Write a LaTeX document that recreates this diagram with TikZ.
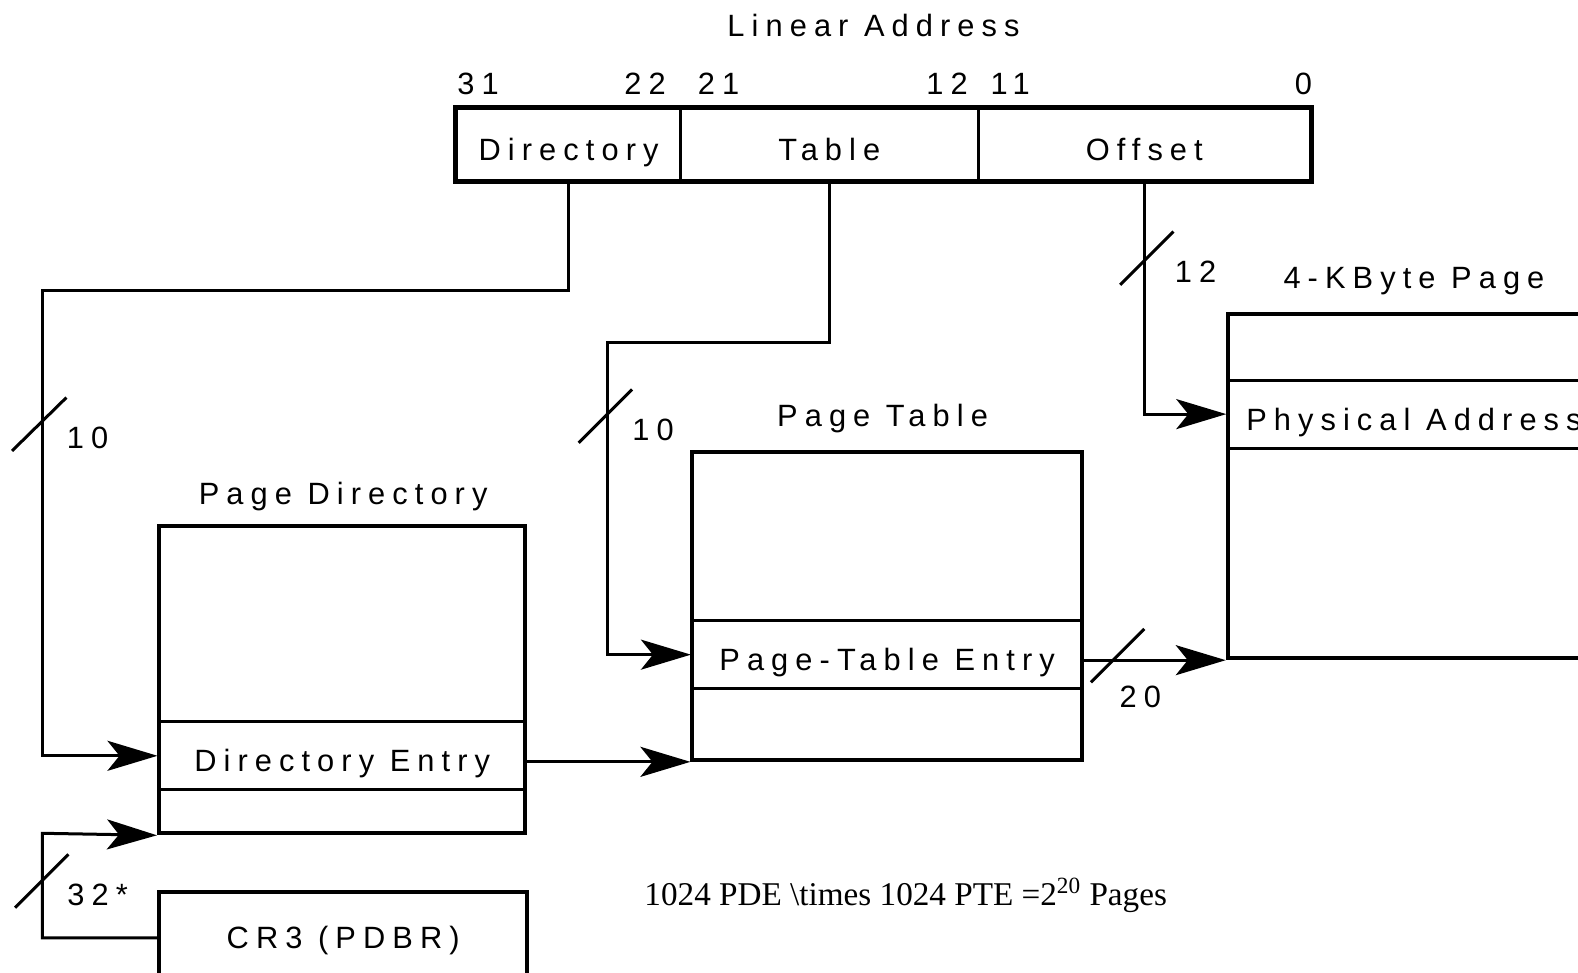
\documentclass[tikz,border=0pt]{standalone}
\usepackage{fontspec}
\setmainfont{Liberation Sans}[LetterSpace=23]
\newfontfamily\notefont{Liberation Serif}
\usetikzlibrary{arrows.meta,fit}

\begin{document}
\begin{tikzpicture}[
    x=0.5032pt, y=-0.5032pt,
    font=\fontsize{15.4}{18}\selectfont,
    field/.style={draw, line width=1.5pt, inner sep=0pt,
      minimum height=35.7pt, text height=16pt, text depth=0pt},
    row/.style={draw, line width=1.5pt, inner sep=0pt,
      minimum height=34pt, text height=16pt, text depth=0pt},
    frame/.style={draw, line width=2pt, inner sep=0pt,
      text height=11pt, text depth=0pt},
    title/.style={anchor=base},
    bit/.style={inner sep=0pt},
    wire/.style={line width=1.5pt},
    arr/.style={wire, -{Stealth[length=25pt, width=15pt, inset=6pt]}},
    bus/.style={line width=1.5pt}
  ]
    \path[use as bounding box] (0,0) rectangle (1568,966);
    \clip (0,0) rectangle (1568,966);

    % linear address fields
    \node[title] (lintitle) at (868,36) {Linear Address};
    \node[field, minimum width=111.7pt] (dirf) at (565,143.5) {Directory};
    \node[field, minimum width=148.9pt] (tblf) at (824,143.5) {Table};
    \node[field, minimum width=166.1pt] (offf) at (1137,143.5) {Offset};
    \node[frame, fit=(dirf)(offf)] (laddr) {};
    \node[bit, anchor=base west] (b31) at (454,94) {31};
    \node[bit, anchor=base east] (b22) at (662,94) {22};
    \node[bit, anchor=base west] (b21) at (693,94) {21};
    \node[bit, anchor=base east] (b12) at (962,94) {12};
    \node[bit, anchor=base west] (b11) at (984,94) {11};
    \node[bit, anchor=base east] (b0) at (1304,94) {0};

    % page directory
    \node[title] (pdtitle) at (341,501) {Page Directory};
    \node[frame, minimum width=183.2pt, minimum height=153.5pt] (pd) at (340,675.5) {};
    \node[row, minimum width=183.2pt] (pde) at (340,751) {Directory Entry};

    % page table
    \node[title] (pttitle) at (877,424) {Page Table};
    \node[frame, minimum width=194.7pt, minimum height=154pt] (ptab) at (881.5,602) {};
    \node[row, minimum width=194.7pt] (pte) at (881.5,650.5) {Page-Table Entry};

    % 4k page
    \node[title] (pgtitle) at (1405,287) {4-KByte Page};
    \node[frame, minimum width=186.2pt, minimum height=172.1pt] (page) at (1405,483) {};
    \node[row, minimum width=186.2pt] (phys) at (1405,411.5) {Physical Address};

    % cr3
    \node[frame, minimum width=184.2pt, minimum height=46.3pt] (cr3) at (341,932) {CR3 (PDBR)};

    \coordinate (dbend) at (42,289);
    \coordinate (tbend) at (604,340);
    \coordinate (crbend) at (42,828);

    \draw[arr] (dirf.south) |- (dbend) |- (pde.west);
    \draw[arr] (tblf.south) |- (tbend) |- (pte.west);
    \draw[arr] (offf.south) |- (phys.west);
    \draw[arr] (pde.east |- ptab.south west) -- (ptab.south west);
    \draw[arr] (pte.east |- page.south west) -- (page.south west);
    \draw[arr] (cr3.west) -| (crbend) -- (pd.south west);

    % bus widths
    \draw[bus] (12,448) -- (66,395);
    \draw[bus] (575,440) -- (628,387);
    \draw[bus] (1113,283) -- (1166,230);
    \draw[bus] (1084,678) -- (1137,625);
    \draw[bus] (15,902) -- (68,849);
    \node[title] (w10a) at (87,446) {10};
    \node[title] (w10b) at (649,438) {10};
    \node[title] (w12) at (1188,281) {12};
    \node[title] (w20) at (1133,703) {20};
    \node[title] (w32) at (97,900) {32*};

    \node[title, font=\notefont\fontsize{16.6}{20}\selectfont] (note) at (900,900)
      {1024 PDE \textbackslash times 1024 PTE =2\textsuperscript{20} Pages};
\end{tikzpicture}
\end{document}
